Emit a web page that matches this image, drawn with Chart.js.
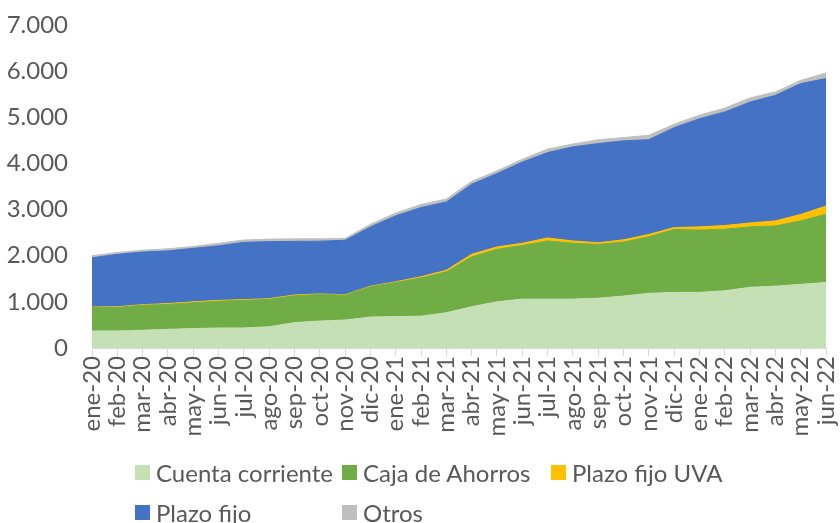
<!DOCTYPE html>
<html>
<head>
<meta charset="utf-8">
<script src="https://cdn.jsdelivr.net/npm/chart.js@4.4.1/dist/chart.umd.min.js"></script>
<style>
  html, body { margin: 0; padding: 0; background: #ffffff; }
  #wrap { position: relative; width: 840px; height: 523px; }
  #legend {
    position: absolute; left: 135px; top: 452px;
    display: grid; grid-template-columns: 207px 209px auto; grid-auto-rows: 40px;
    font-family: Lato, sans-serif; font-size: 24px; color: #595959;
  }
  .item { display: flex; align-items: center; white-space: nowrap; }
  .box { width: 15px; height: 15px; margin-right: 6px; flex: none; }
</style>
</head>
<body>
<div id="wrap">
  <canvas id="grafico" width="840" height="523"></canvas>
  <div id="legend"></div>
</div>
<script>
const meses = ['ene-20', 'feb-20', 'mar-20', 'abr-20', 'may-20', 'jun-20', 'jul-20', 'ago-20', 'sep-20', 'oct-20', 'nov-20', 'dic-20',
    'ene-21', 'feb-21', 'mar-21', 'abr-21', 'may-21', 'jun-21', 'jul-21', 'ago-21', 'sep-21', 'oct-21', 'nov-21', 'dic-21',
    'ene-22', 'feb-22', 'mar-22', 'abr-22', 'may-22', 'jun-22'];

const cuentaCorriente = [370, 370, 385, 405, 420, 435, 435, 460, 550, 585, 605, 670, 680, 690, 765, 895, 1000, 1060, 1060, 1060, 1080, 1125, 1185, 1205, 1205, 1240, 1315, 1340, 1380, 1420];
const cajaAhorros = [510, 510, 540, 540, 560, 580, 595, 595, 585, 575, 540, 660, 740, 830, 885, 1080, 1140, 1160, 1260, 1210, 1165, 1170, 1225, 1365, 1350, 1335, 1310, 1305, 1375, 1480];
const plazoFijoUVA = [10, 12, 15, 18, 20, 18, 18, 15, 15, 12, 10, 10, 15, 25, 35, 55, 50, 50, 65, 50, 35, 50, 50, 40, 70, 80, 85, 110, 140, 175];
const plazoFijo = [1065, 1138, 1140, 1142, 1160, 1182, 1242, 1235, 1160, 1143, 1180, 1285, 1430, 1500, 1480, 1520, 1590, 1760, 1850, 2040, 2150, 2145, 2055, 2165, 2345, 2460, 2620, 2720, 2835, 2765];
const otros = [45, 40, 40, 45, 40, 55, 50, 55, 55, 50, 40, 55, 60, 65, 65, 60, 60, 60, 75, 60, 85, 70, 95, 75, 75, 85, 90, 75, 70, 120];

const ticksY = [0, 1000, 2000, 3000, 4000, 5000, 6000, 7000];

const fuente = 'Lato, sans-serif';
const gris = '#595959';

function serie(label, data, color, fill) {
    return {
        label: label,
        data: data,
        backgroundColor: color,
        borderColor: color,
        borderWidth: 1,
        pointRadius: 0,
        tension: 0,
        fill: fill
    };
}

// quitar el relleno automatico que Chart.js agrega por las etiquetas
function sinPadding(s) {
    s.paddingTop = 0;
    s.paddingBottom = 0;
    s.paddingLeft = 0;
    s.paddingRight = 0;
}

const ctx = document.getElementById('grafico').getContext('2d');

const grafico = new Chart(ctx, {
    type: 'line',
    data: {
        labels: meses,
        datasets: [
            serie('Cuenta corriente', cuentaCorriente, '#c5e0b4', 'origin'),
            serie('Caja de Ahorros', cajaAhorros, '#70ad47', '-1'),
            serie('Plazo fijo UVA', plazoFijoUVA, '#ffc000', '-1'),
            serie('Plazo fijo', plazoFijo, '#4472c4', '-1'),
            serie('Otros', otros, '#bfbfbf', '-1')
        ]
    },
    options: {
        responsive: false,
        animation: false,
        layout: { padding: { top: 25, right: 14, bottom: 0, left: 0 } },
        plugins: {
            legend: { display: false },
            tooltip: { enabled: false }
        },
        scales: {
            x: {
                offset: false,
                grid: { drawOnChartArea: false, drawTicks: true, tickLength: 8, color: '#d9d9d9' },
                border: { display: true, color: '#d9d9d9' },
                ticks: {
                    autoSkip: false, minRotation: 90, maxRotation: 90, padding: 0,
                    color: gris, font: { family: fuente, size: 24 }
                },
                afterFit: (s) => { s.height = 175; sinPadding(s); }
            },
            y: {
                stacked: true,
                min: 0,
                max: 7000,
                afterBuildTicks: (s) => { s.ticks = ticksY.map(v => ({ value: v })); },
                grid: { display: false },
                border: { display: false },
                ticks: {
                    padding: 16,
                    color: gris,
                    font: { family: fuente, size: 24 },
                    callback: (v) => v.toLocaleString('de-DE')
                },
                afterFit: (s) => { s.width = 92; sinPadding(s); }
            }
        }
    }
});

// leyenda en HTML, dos filas como en el original
const leyenda = document.getElementById('legend');
grafico.data.datasets.forEach(ds => {
    const item = document.createElement('div');
    item.className = 'item';
    item.innerHTML = '<span class="box" style="background:' + ds.backgroundColor + '"></span><span>' + ds.label + '</span>';
    leyenda.appendChild(item);
});
</script>
</body>
</html>
